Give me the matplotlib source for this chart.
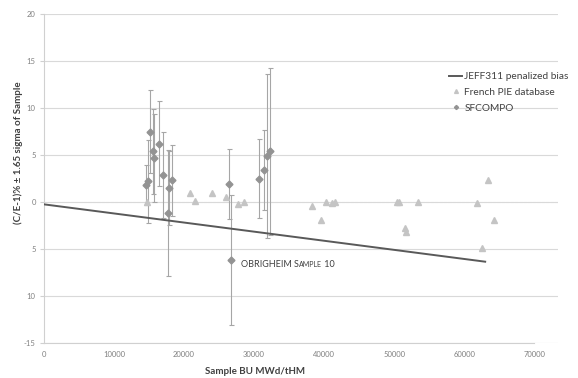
import matplotlib
matplotlib.use("Agg")
import matplotlib.pyplot as plt
from matplotlib.offsetbox import TextArea, HPacker, AnnotationBbox

plt.rcParams['font.family'] = ['Lato', 'DejaVu Sans']

# JEFF311 penalized bias (straight line)
line_bu = [0, 63000]
line_bias = [-0.25, -6.35]

# French PIE database
pie_bu = [14670, 20860, 21570, 24000, 26000, 27670, 28530, 38240, 39570, 40290,
          41190, 41610, 50390, 50670, 51530, 51710, 53470, 61900, 62530, 63470, 64330]
pie_bias = [0.0, 1.0, 0.1, 1.0, 0.5, -0.2, 0.0, -0.4, -1.9, 0.0,
            -0.1, 0.0, 0.0, 0.0, -2.8, -3.2, 0.0, -0.1, -4.9, 2.3, -1.9]

# SFCOMPO with 1.65 sigma
sf_bu = [14600, 14800, 15140, 15530, 15760, 16390, 17040, 17670, 17900, 18300,
         26470, 26670, 30760, 31470, 31810, 32240]
sf_bias = [1.8, 2.2, 7.5, 5.4, 4.7, 6.2, 2.9, -1.2, 1.5, 2.3,
           1.9, -6.2, 2.5, 3.4, 4.9, 5.4]
sf_err = [2.1, 4.4, 4.4, 4.5, 4.7, 4.5, 4.6, 6.7, 3.9, 3.8,
          3.7, 6.9, 4.25, 4.3, 8.7, 8.9]

yticks = [20, 15, 10, 5, 0, -5, -10, -15]
ytick_labels = ["20", "15", "10", "5", "0", "5", "10", "-15"]
xticks = [0, 10000, 20000, 30000, 40000, 50000, 60000, 70000]

fig = plt.figure(figsize=(5.78, 3.78), dpi=100)
ax = fig.add_axes([44/578, 1 - 343/378, (558-44)/578, (343-14)/378])

ax.set_xlim(0, 73400)
ax.set_ylim(-15, 20)
ax.set_yticks(yticks)
ax.set_yticklabels(ytick_labels)
ax.set_xticks(xticks)
ax.set_xticklabels([str(v) for v in xticks])
ax.tick_params(axis='both', labelsize=5.5, colors='#808080', length=0, pad=6)
ax.tick_params(axis='y', length=3, color='#d0d0d0', pad=3)

ax.grid(axis='y', color='#d9d9d9', linewidth=0.8)
ax.set_axisbelow(True)
for s in ['top', 'right']:
    ax.spines[s].set_visible(False)
ax.spines['left'].set_color('#d0d0d0')
ax.spines['bottom'].set_color('#d0d0d0')
ax.spines['bottom'].set_bounds(0, 70000)
ax.axhline(0, color='#e6e6e6', linewidth=0.8, linestyle=(0, (2, 2)), zorder=0)

ax.errorbar(sf_bu, sf_bias, yerr=sf_err, fmt='none', ecolor='#a6a6a6',
            elinewidth=0.8, capsize=1.8, capthick=0.8, zorder=2)
ax.plot(line_bu, line_bias, color='#595959', linewidth=1.4, zorder=3,
        label='JEFF311 penalized bias')
ax.plot(pie_bu, pie_bias, linestyle='none', marker='^', markersize=4.6,
        color='#c4c4c4', zorder=3, label='French PIE database')
ax.plot(sf_bu, sf_bias, linestyle='none', marker='D', markersize=3.5,
        color='#939393', zorder=4, label='SFCOMPO')

leg = ax.legend(loc='upper left', bbox_to_anchor=(440/578, 1 - 63/378),
                bbox_transform=fig.transFigure, frameon=False, fontsize=7.3,
                handlelength=1.3, handletextpad=0.2, labelspacing=0.65,
                markerscale=0.6)
for t in leg.get_texts():
    t.set_color('#404040')

# annotation with small caps "Sample"
parts = [TextArea("OBRIGHEIM ", textprops=dict(fontsize=6.5, color='#404040')),
         TextArea("S", textprops=dict(fontsize=6.5, color='#404040')),
         TextArea("AMPLE", textprops=dict(fontsize=5, color='#404040')),
         TextArea(" 10", textprops=dict(fontsize=6.5, color='#404040'))]
box = HPacker(children=parts, align='baseline', pad=0, sep=0)
ab = AnnotationBbox(box, (28100, -6.7), box_alignment=(0, 0.5), frameon=False)
ax.add_artist(ab)

fig.text(255/578, 1 - 372/378, "Sample BU MWd/tHM", ha='center', va='center',
         fontsize=7, fontweight='bold', color='#404040')
fig.text(18/578, 1 - 153/378, "(C/E-1)% \u00b1 1.65 sigma of Sample", ha='center',
         va='center', rotation=90, fontsize=7, fontweight='bold', color='#404040')

fig.savefig("out.png", dpi=100)
